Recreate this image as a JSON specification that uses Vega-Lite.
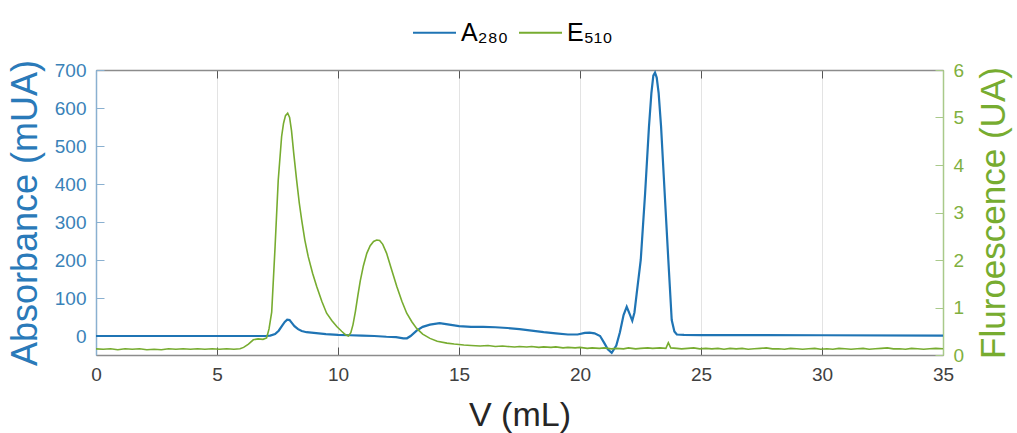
{
  "$schema": "https://vega.github.io/schema/vega-lite/v6.json",
  "width": 847,
  "height": 285,
  "autosize": "none",
  "padding": {"left": 96, "top": 70, "right": 74, "bottom": 78},
  "background": "white",
  "config": {
    "font": "Liberation Sans",
    "view": {"stroke": null},
    "axis": {"grid": false, "titleFontWeight": "normal"}
  },
  "datasets": {
    "a280": [
      {"V": 0, "A": 0}, {"V": 2, "A": 0}, {"V": 4, "A": 0}, {"V": 6, "A": 0}, {"V": 7.0, "A": 0},
      {"V": 7.2, "A": 1}, {"V": 7.4, "A": 5}, {"V": 7.55, "A": 14}, {"V": 7.7, "A": 28}, {"V": 7.8, "A": 37},
      {"V": 7.9, "A": 43}, {"V": 8.0, "A": 42}, {"V": 8.1, "A": 34}, {"V": 8.2, "A": 26}, {"V": 8.35, "A": 18},
      {"V": 8.5, "A": 13}, {"V": 8.7, "A": 10}, {"V": 9.0, "A": 8}, {"V": 9.5, "A": 5}, {"V": 10.0, "A": 3},
      {"V": 10.5, "A": 2}, {"V": 11.0, "A": 1}, {"V": 11.5, "A": 0}, {"V": 12.0, "A": -2}, {"V": 12.4, "A": -3},
      {"V": 12.7, "A": -6}, {"V": 12.85, "A": -6}, {"V": 13.0, "A": 0}, {"V": 13.25, "A": 14}, {"V": 13.5, "A": 24},
      {"V": 13.8, "A": 30}, {"V": 14.2, "A": 34}, {"V": 14.6, "A": 30}, {"V": 15.0, "A": 26}, {"V": 15.5, "A": 24},
      {"V": 16.0, "A": 24}, {"V": 16.5, "A": 23}, {"V": 17.0, "A": 21}, {"V": 17.5, "A": 18}, {"V": 18.0, "A": 14},
      {"V": 18.5, "A": 10}, {"V": 19.0, "A": 7}, {"V": 19.5, "A": 4}, {"V": 19.9, "A": 4}, {"V": 20.2, "A": 8},
      {"V": 20.4, "A": 9}, {"V": 20.6, "A": 7}, {"V": 20.83, "A": 0}, {"V": 21.0, "A": -18}, {"V": 21.15, "A": -35},
      {"V": 21.31, "A": -44}, {"V": 21.5, "A": -25}, {"V": 21.65, "A": 10}, {"V": 21.8, "A": 55}, {"V": 21.93, "A": 77},
      {"V": 22.05, "A": 58}, {"V": 22.16, "A": 40}, {"V": 22.25, "A": 62}, {"V": 22.34, "A": 110}, {"V": 22.51, "A": 200},
      {"V": 22.69, "A": 375}, {"V": 22.85, "A": 551}, {"V": 22.95, "A": 639}, {"V": 23.03, "A": 685}, {"V": 23.1, "A": 693},
      {"V": 23.17, "A": 680}, {"V": 23.25, "A": 639}, {"V": 23.35, "A": 551}, {"V": 23.5, "A": 375}, {"V": 23.65, "A": 200},
      {"V": 23.79, "A": 42}, {"V": 23.9, "A": 12}, {"V": 24.0, "A": 4}, {"V": 24.3, "A": 3}, {"V": 25, "A": 2.5},
      {"V": 30, "A": 2}, {"V": 35, "A": 1}
    ],
    "e510": [
      {"V": 0, "E": 0.13}, {"V": 0.3, "E": 0.12}, {"V": 0.6, "E": 0.13}, {"V": 0.9, "E": 0.11}, {"V": 1.2, "E": 0.13},
      {"V": 1.5, "E": 0.12}, {"V": 1.8, "E": 0.13}, {"V": 2.1, "E": 0.11}, {"V": 2.4, "E": 0.12}, {"V": 2.7, "E": 0.11},
      {"V": 3.0, "E": 0.13}, {"V": 3.3, "E": 0.12}, {"V": 3.6, "E": 0.13}, {"V": 3.9, "E": 0.12}, {"V": 4.2, "E": 0.13},
      {"V": 4.5, "E": 0.12}, {"V": 4.8, "E": 0.13}, {"V": 5.1, "E": 0.12}, {"V": 5.4, "E": 0.13}, {"V": 5.7, "E": 0.12},
      {"V": 5.95, "E": 0.13}, {"V": 6.1, "E": 0.16}, {"V": 6.3, "E": 0.23}, {"V": 6.5, "E": 0.32}, {"V": 6.7, "E": 0.34},
      {"V": 6.9, "E": 0.33}, {"V": 7.05, "E": 0.36}, {"V": 7.15, "E": 0.55}, {"V": 7.26, "E": 0.9}, {"V": 7.4, "E": 2.28},
      {"V": 7.53, "E": 3.68}, {"V": 7.67, "E": 4.6}, {"V": 7.75, "E": 4.88}, {"V": 7.83, "E": 5.04}, {"V": 7.92, "E": 5.09},
      {"V": 8.0, "E": 5.0}, {"V": 8.08, "E": 4.72}, {"V": 8.17, "E": 4.25}, {"V": 8.29, "E": 3.68}, {"V": 8.4, "E": 3.2},
      {"V": 8.5, "E": 2.84}, {"V": 8.63, "E": 2.42}, {"V": 8.77, "E": 2.07}, {"V": 8.95, "E": 1.72}, {"V": 9.12, "E": 1.44},
      {"V": 9.33, "E": 1.13}, {"V": 9.53, "E": 0.88}, {"V": 9.75, "E": 0.72}, {"V": 9.95, "E": 0.6}, {"V": 10.15, "E": 0.5},
      {"V": 10.3, "E": 0.43}, {"V": 10.43, "E": 0.4}, {"V": 10.53, "E": 0.47}, {"V": 10.62, "E": 0.64}, {"V": 10.72, "E": 0.92},
      {"V": 10.82, "E": 1.25}, {"V": 10.92, "E": 1.56}, {"V": 11.05, "E": 1.88}, {"V": 11.19, "E": 2.14}, {"V": 11.33, "E": 2.3},
      {"V": 11.47, "E": 2.39}, {"V": 11.6, "E": 2.42}, {"V": 11.72, "E": 2.41}, {"V": 11.85, "E": 2.33}, {"V": 12.01, "E": 2.14},
      {"V": 12.2, "E": 1.82}, {"V": 12.43, "E": 1.44}, {"V": 12.64, "E": 1.13}, {"V": 12.84, "E": 0.88}, {"V": 13.05, "E": 0.7},
      {"V": 13.25, "E": 0.56}, {"V": 13.5, "E": 0.44}, {"V": 13.8, "E": 0.35}, {"V": 14.1, "E": 0.29}, {"V": 14.5, "E": 0.25},
      {"V": 14.8, "E": 0.23}, {"V": 15.2, "E": 0.21}, {"V": 15.5, "E": 0.2}, {"V": 15.87, "E": 0.19}, {"V": 16.2, "E": 0.2},
      {"V": 16.5, "E": 0.18}, {"V": 16.8, "E": 0.19}, {"V": 17.0, "E": 0.18}, {"V": 17.3, "E": 0.17}, {"V": 17.5, "E": 0.18},
      {"V": 17.8, "E": 0.17}, {"V": 18.0, "E": 0.18}, {"V": 18.3, "E": 0.16}, {"V": 18.5, "E": 0.17}, {"V": 18.8, "E": 0.16},
      {"V": 19.0, "E": 0.17}, {"V": 19.3, "E": 0.15}, {"V": 19.5, "E": 0.16}, {"V": 19.8, "E": 0.15}, {"V": 20.0, "E": 0.16},
      {"V": 20.3, "E": 0.14}, {"V": 20.5, "E": 0.15}, {"V": 20.8, "E": 0.14}, {"V": 21.0, "E": 0.15}, {"V": 21.3, "E": 0.13},
      {"V": 21.5, "E": 0.14}, {"V": 21.8, "E": 0.13}, {"V": 22.0, "E": 0.15}, {"V": 22.3, "E": 0.13}, {"V": 22.5, "E": 0.14},
      {"V": 22.8, "E": 0.15}, {"V": 23.0, "E": 0.14}, {"V": 23.3, "E": 0.15}, {"V": 23.55, "E": 0.14}, {"V": 23.65, "E": 0.26},
      {"V": 23.75, "E": 0.15}, {"V": 24.0, "E": 0.14}, {"V": 24.2, "E": 0.13}, {"V": 24.45, "E": 0.14}, {"V": 24.7, "E": 0.15},
      {"V": 24.95, "E": 0.13}, {"V": 25.2, "E": 0.14}, {"V": 25.45, "E": 0.13}, {"V": 25.7, "E": 0.14}, {"V": 25.95, "E": 0.12},
      {"V": 26.2, "E": 0.14}, {"V": 26.45, "E": 0.13}, {"V": 26.7, "E": 0.14}, {"V": 26.95, "E": 0.12}, {"V": 27.2, "E": 0.13},
      {"V": 27.45, "E": 0.14}, {"V": 27.7, "E": 0.15}, {"V": 27.95, "E": 0.13}, {"V": 28.2, "E": 0.13}, {"V": 28.45, "E": 0.12},
      {"V": 28.7, "E": 0.14}, {"V": 28.95, "E": 0.13}, {"V": 29.2, "E": 0.12}, {"V": 29.45, "E": 0.13}, {"V": 29.7, "E": 0.14},
      {"V": 29.95, "E": 0.12}, {"V": 30.2, "E": 0.13}, {"V": 30.45, "E": 0.12}, {"V": 30.7, "E": 0.14}, {"V": 30.95, "E": 0.13},
      {"V": 31.2, "E": 0.12}, {"V": 31.45, "E": 0.13}, {"V": 31.7, "E": 0.14}, {"V": 31.95, "E": 0.12}, {"V": 32.2, "E": 0.13},
      {"V": 32.45, "E": 0.14}, {"V": 32.7, "E": 0.15}, {"V": 32.95, "E": 0.13}, {"V": 33.2, "E": 0.13}, {"V": 33.45, "E": 0.12},
      {"V": 33.7, "E": 0.14}, {"V": 33.95, "E": 0.13}, {"V": 34.2, "E": 0.12}, {"V": 34.45, "E": 0.13}, {"V": 34.7, "E": 0.14},
      {"V": 35, "E": 0.13}
    ]
  },
  "layer": [
    {
      "data": {"name": "a280"},
      "mark": {"type": "line", "strokeWidth": 2.2, "clip": true},
      "encoding": {
        "x": {
          "field": "V", "type": "quantitative",
          "scale": {"domain": [0, 35], "nice": false},
          "axis": {
            "orient": "bottom", "values": [0, 5, 10, 15, 20, 25, 30, 35],
            "title": "V (mL)", "titleFontSize": 34, "titleColor": "#262626",
            "titleBaseline": "alphabetic", "titleY": 70,
            "labelFontSize": 19, "labelColor": "#404040", "labelPadding": 18, "labelFlush": false,
            "tickSize": -8, "tickColor": "#555555", "domainColor": "#8c8c8c", "domainWidth": 1.5,
            "grid": true, "gridColor": "#e3e3e3", "gridWidth": 1
          }
        },
        "y": {
          "field": "A", "type": "quantitative",
          "scale": {"domain": [-50, 700], "nice": false, "zero": false},
          "axis": {
            "orient": "left", "values": [0, 100, 200, 300, 400, 500, 600, 700],
            "title": "Absorbance (mUA)", "titleFontSize": 36, "titleColor": "#2a7ab9",
            "titleBaseline": "bottom", "titleX": -52,
            "labelFontSize": 19, "labelColor": "#3a82b8", "labelPadding": 18, "labelFlush": false,
            "tickSize": -8, "tickColor": "#8ab0d0", "domainColor": "#8ab0d0", "domainWidth": 1.5
          }
        },
        "color": {
          "datum": "A₂₈₀", "type": "nominal",
          "scale": {"domain": ["A₂₈₀", "E₅₁₀"], "range": ["#1f74b4", "#77ac30"]},
          "legend": {
            "orient": "none", "legendX": 316, "legendY": -60, "direction": "horizontal",
            "title": null, "symbolType": "stroke", "symbolSize": 1849, "symbolStrokeWidth": 2,
            "labelFontSize": 25, "labelColor": "#000000", "labelOffset": 4, "columnPadding": 6
          }
        }
      }
    },
    {
      "data": {"name": "e510"},
      "mark": {"type": "line", "strokeWidth": 1.6, "clip": true},
      "encoding": {
        "x": {
          "field": "V", "type": "quantitative",
          "scale": {"domain": [0, 35], "nice": false},
          "axis": {
            "orient": "top", "values": [0, 5, 10, 15, 20, 25, 30, 35],
            "title": null, "labels": false,
            "tickSize": -8, "tickColor": "#555555", "domainColor": "#8c8c8c", "domainWidth": 1.5
          }
        },
        "y": {
          "field": "E", "type": "quantitative",
          "scale": {"domain": [0, 6], "nice": false, "zero": false},
          "axis": {
            "orient": "right", "values": [0, 1, 2, 3, 4, 5, 6],
            "title": "Fluroescence (UA)", "titleFontSize": 35, "titleColor": "#77ac30",
            "titleAngle": 270, "titleBaseline": "top", "titleX": 33,
            "labelFontSize": 19, "labelColor": "#80b040", "labelPadding": 18, "labelFlush": false,
            "tickSize": -8, "tickColor": "#a9c98a", "domainColor": "#a9c98a", "domainWidth": 1.5
          }
        },
        "color": {"datum": "E₅₁₀", "type": "nominal"}
      }
    }
  ],
  "resolve": {"scale": {"x": "independent", "y": "independent"}}
}
